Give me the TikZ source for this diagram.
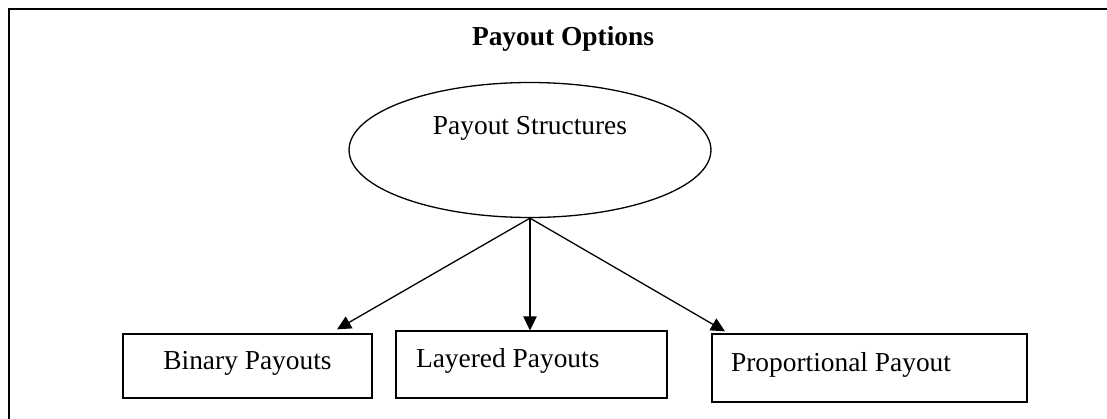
\documentclass[tikz,border=0pt]{standalone}
\usepackage{fontspec}
\setmainfont{Liberation Serif}
\usetikzlibrary{shapes.geometric,arrows.meta,calc}

\tikzset{
    outcome/.style={draw, line width=0.74pt, rectangle, text height=0.36cm, text depth=0.24cm},
    feed/.style={line width=0.74pt, -{Triangle[length=0.28cm,width=0.27cm]}}
}

\begin{document}
\begin{tikzpicture}[x=0.02cm, y=-0.02cm, font=\fontsize{15.6}{18}\selectfont]
    \useasboundingbox (0,0) rectangle (1107,419);
    \draw[line width=1.1pt] (9,419) -- (9,9) -- (1107,9);

    \node[font=\fontsize{15.6}{18}\selectfont\bfseries, anchor=base] (title) at (563,46) {Payout Options};

    \node[draw, ellipse, line width=0.74pt, minimum width=7.24cm, minimum height=2.7cm,
          text height=0.36cm, text depth=1cm] (structs) at (530,150) {Payout Structures};

    \node[outcome, minimum width=4.98cm, minimum height=1.28cm] (binary) at (247.5,366) {Binary Payouts};
    \node[outcome, inner xsep=0.4cm, text width=4.62cm, align=flush left, minimum height=1.34cm] (layered) at (531.5,364.5) {Layered Payouts};
    \node[outcome, inner xsep=0.38cm, text width=5.54cm, align=flush left, minimum height=1.36cm] (prop) at (869.5,368) {Proportional Payout};

    \draw[feed] (structs.south) -- ($(binary.north)+(89.5,-4)$);
    \draw[feed] (structs.south) -- (structs.south |- layered.north);
    \draw[feed] (structs.south) -- ($(prop.north)+(-144.5,-2)$);
\end{tikzpicture}
\end{document}
